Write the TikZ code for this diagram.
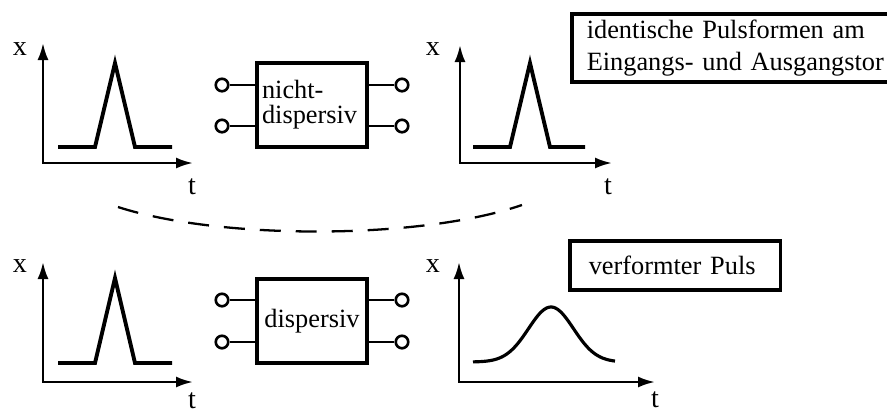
\documentclass[tikz,border=0pt]{standalone}
\usepackage{fontspec}
\setmainfont{Liberation Serif}
\usetikzlibrary{arrows.meta,positioning}

\begin{document}
\begin{tikzpicture}[x=0.02cm,y=-0.02cm,font=\fontsize{15}{18}\selectfont,
  axis/.style={line width=1.4pt,{Latex[length=0.34cm,width=0.22cm]}-{Latex[length=0.34cm,width=0.22cm]}},
  pulse/.style={line width=2.2pt},
  twoport/.style={draw,line width=2.2pt,minimum width=2.2cm,minimum height=1.68cm},
  port/.style={circle,draw,line width=1.5pt,inner sep=0pt,minimum size=0.25cm},
  lead/.style={line width=1.4pt},
  lab/.style={inner sep=0pt,font=\fontsize{16}{18}\selectfont},
  note/.style={draw,line width=2pt,align=left,anchor=north west}]
  \useasboundingbox (0,0) rectangle (887,414);

  % oben: nicht-dispersives Zweitor
  \draw[axis] (43,43) |- (193,163);
  \node[lab] (x1) at (20,49) {x};
  \node[lab] (t1) at (192,187) {t};
  \draw[pulse] (58,147) -- (95,147) -- (115,63) -- (135,147) -- (172,147);

  \node[twoport,align=left,inner xsep=0.1cm,text width=2.0cm,
        font=\fontsize{15}{14.2}\selectfont] (nd) at (312,105) {nicht-\\dispersiv};
  \node[port] (a1) at (222,85) {};
  \node[port] (a2) at (222,126) {};
  \node[port] (b1) at (402,85) {};
  \node[port] (b2) at (402,126) {};
  \draw[lead] (a1) -- (a1 -| nd.west);
  \draw[lead] (a2) -- (a2 -| nd.west);
  \draw[lead] (b1) -- (b1 -| nd.east);
  \draw[lead] (b2) -- (b2 -| nd.east);

  \draw[axis] (460,45) |- (612,163);
  \node[lab] (x2) at (433,49) {x};
  \node[lab] (t2) at (608,187) {t};
  \draw[pulse] (473,147) -- (510,147) -- (530,63) -- (550,147) -- (585,147);

  \node[note,minimum height=1.36cm,inner xsep=0.3cm,
        text width=7cm] (n1) at (570,12)
        {identische Pulsformen am\\Eingangs- und Ausgangstor};

  % Trennlinie
  \draw[line width=1.3pt,dash pattern=on 0.42cm off 0.3cm]
    (118,207) .. controls (220,240) and (420,240) .. (522,205);

  % unten: dispersives Zweitor
  \draw[axis] (43,262) |- (193,382);
  \node[lab] (x3) at (20,266) {x};
  \node[lab] (t3) at (192,401) {t};
  \draw[pulse] (58,363) -- (95,363) -- (115,278) -- (135,363) -- (172,363);

  \node[twoport] (dd) at (312,321) {dispersiv};
  \node[port] (c1) at (222,300) {};
  \node[port] (c2) at (222,342) {};
  \node[port] (d1) at (402,300) {};
  \node[port] (d2) at (402,342) {};
  \draw[lead] (c1) -- (c1 -| dd.west);
  \draw[lead] (c2) -- (c2 -| dd.west);
  \draw[lead] (d1) -- (d1 -| dd.east);
  \draw[lead] (d2) -- (d2 -| dd.east);

  \draw[axis] (459,262) |- (655,382);
  \node[lab] (x4) at (433,266) {x};
  \node[lab] (t4) at (655,400) {t};
  \draw[line width=1.8pt] plot[domain=473:615,samples=80,smooth]
    (\x,{362-55*exp(-0.5*((\x-551)/22.5)^2)});

  \node[note,minimum width=4.22cm,minimum height=0.98cm,inner xsep=0.38cm,
        text width=3.46cm] (n2) at (568,239) {verformter Puls};
\end{tikzpicture}
\end{document}
